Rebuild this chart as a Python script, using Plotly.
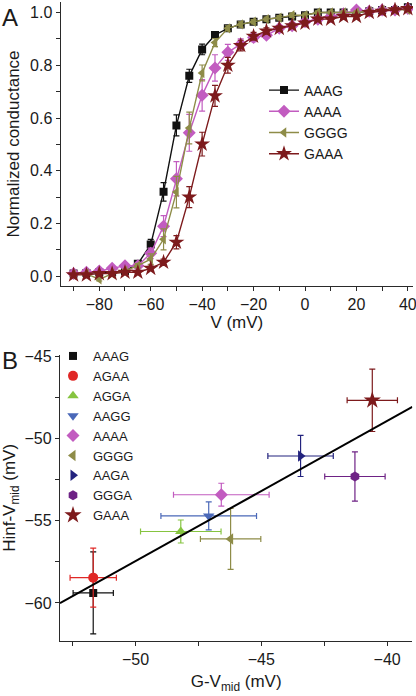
import numpy as np
import plotly.graph_objects as go

# ---------------- Panel A data ----------------
voltage = list(range(-90, 45, 5))

aaag_g = [0.01, 0.012, 0.015, 0.015, 0.02, 0.047, 0.12, 0.32, 0.572, 0.76, 0.86, 0.915, 0.94,
          0.955, 0.965, 0.975, 0.98, 0.985, 0.99, 1.0, 1.0, 1.0, 1.0, 1.005, 1.01, 1.01, 1.02]
aaag_e = [0.005, 0.005, 0.005, 0.005, 0.005, 0.008, 0.02, 0.035, 0.04, 0.025, 0.02, 0.012, 0.01,
          0.01, 0.008, 0.008, 0.008, 0.008, 0.008, 0.006, 0.006, 0.006, 0.006, 0.006, 0.006, 0.006, 0.006]

aaaa_g = [0.01, 0.015, 0.02, 0.03, 0.04, 0.04, 0.087, 0.19, 0.37, 0.544, 0.686, 0.79, 0.849,
          0.88, 0.905, 0.914, 0.94, 0.95, 0.965, 0.975, 0.985, 0.995, 1.01, 1.005, 1.01, 1.01, 1.015]
aaaa_e = [0.005, 0.005, 0.005, 0.005, 0.006, 0.008, 0.02, 0.04, 0.065, 0.07, 0.06, 0.05, 0.03,
          0.02, 0.015, 0.012, 0.01, 0.01, 0.01, 0.008, 0.008, 0.008, 0.008, 0.008, 0.008, 0.008, 0.008]

gggg_g = [0.005, 0.01, -0.012, 0.01, 0.02, 0.04, 0.065, 0.14, 0.319, 0.562, 0.771, 0.886, 0.94,
          0.955, 0.965, 0.975, 0.98, 0.99, 0.99, 1.0, 1.0, 1.0, 1.0, 1.005, 1.01, 1.01, 1.01]
gggg_e = [0.005, 0.005, 0.006, 0.005, 0.006, 0.008, 0.02, 0.04, 0.06, 0.06, 0.03, 0.015, 0.01,
          0.01, 0.008, 0.008, 0.008, 0.008, 0.008, 0.006, 0.006, 0.006, 0.006, 0.006, 0.006, 0.006, 0.006]

gaaa_g = [0.005, 0.005, 0.01, 0.01, 0.015, 0.015, 0.03, 0.053, 0.129, 0.30, 0.501, 0.684, 0.80,
          0.875, 0.91, 0.93, 0.94, 0.95, 0.96, 0.975, 0.975, 0.985, 0.985, 1.0, 1.005, 1.01, 1.015]
gaaa_e = [0.004, 0.004, 0.004, 0.004, 0.005, 0.005, 0.008, 0.012, 0.025, 0.04, 0.045, 0.04, 0.03,
          0.02, 0.015, 0.012, 0.01, 0.01, 0.01, 0.008, 0.008, 0.008, 0.008, 0.008, 0.008, 0.008, 0.008]

series_a_names = ["AAAG", "AAAA", "GGGG", "GAAA"]
series_a_vals = [aaag_g, aaaa_g, gggg_g, gaaa_g]
series_a_errs = [aaag_e, aaaa_e, gggg_e, gaaa_e]
series_a_colors = ["#111111", "#c25cc0", "#8e8c48", "#7d1a1c"]
series_a_symbols = ["square", "diamond", "triangle-left", "star"]
series_a_sizes = [8, 10, 9, 12]

# ---------------- Panel B data ----------------
mut_names = ["AAAG", "AGAA", "AGGA", "AAGG", "AAAA", "GGGG", "AAGA", "GGGA", "GAAA"]
g_vmid = [-51.68, -51.68, -48.2, -47.09, -46.59, -46.22, -43.44, -41.28, -40.59]
g_vmid_err = [0.8, 0.92, 1.6, 1.9, 1.9, 1.2, 1.3, 1.2, 1.0]
h_vmid = [-59.39, -58.46, -55.65, -54.70, -53.41, -56.10, -51.05, -52.30, -47.66]
h_vmid_err = [2.5, 1.8, 0.7, 0.85, 0.7, 1.85, 1.25, 1.5, 1.9]
mut_colors = ["#111111", "#e02826", "#86c440", "#4a68b8", "#c25cc0", "#8e8c48", "#23237e", "#6e2285", "#7d1a1c"]
mut_symbols = ["square", "circle", "triangle-up", "triangle-down", "diamond", "triangle-left",
               "triangle-right", "hexagon", "star"]
mut_sizes = [8, 10, 10, 10, 10, 10, 10, 10, 13]

FONT = "Arial, 'Liberation Sans', sans-serif"
AX = "#2a2a2a"

fig = go.Figure()

for n, v, e, c, s, sz in zip(series_a_names, series_a_vals, series_a_errs,
                             series_a_colors, series_a_symbols, series_a_sizes):
    fig.add_trace(go.Scatter(
        x=voltage, y=v, name=n, mode="lines+markers",
        line=dict(color=c, width=1.4),
        marker=dict(symbol=s, size=sz, color=c, line=dict(width=0)),
        error_y=dict(type="data", array=e, color=c, thickness=1.2, width=3),
        xaxis="x", yaxis="y", legend="legend"))

for n, gx, gxe, hy, hye, c, s, sz in zip(mut_names, g_vmid, g_vmid_err, h_vmid, h_vmid_err,
                                         mut_colors, mut_symbols, mut_sizes):
    fig.add_trace(go.Scatter(
        x=[gx], y=[hy], name=n, mode="markers",
        marker=dict(symbol=s, size=sz, color=c, line=dict(width=0)),
        error_x=dict(type="data", array=[gxe], color=c, thickness=1.2, width=3),
        error_y=dict(type="data", array=[hye], color=c, thickness=1.2, width=3),
        xaxis="x2", yaxis="y2", legend="legend2"))

# linear fit line
slope, intercept = np.polyfit(g_vmid, h_vmid, 1)
fit_x = np.array([-53.0, -39.0])
fig.add_trace(go.Scatter(x=fit_x, y=slope * fit_x + intercept, mode="lines",
                         line=dict(color="black", width=2), showlegend=False,
                         xaxis="x2", yaxis="y2", hoverinfo="skip"))

W, H = 416, 696
def px(x0, x1):
    return [x0 / W, x1 / W]
def py(top, bottom):
    return [1 - bottom / H, 1 - top / H]

common = dict(showline=True, linecolor=AX, linewidth=1.3, ticks="outside", ticklen=4,
              tickwidth=1.2, tickcolor=AX, showgrid=False, zeroline=False,
              automargin=False, ticklabeloverflow="allow",
              tickfont=dict(family=FONT, size=16, color="#1a1a1a"))

fig.update_layout(
    width=W, height=H, margin=dict(l=0, r=0, t=0, b=0),
    paper_bgcolor="white", plot_bgcolor="white",
    font=dict(family=FONT, color="#1a1a1a"),
    xaxis=dict(domain=px(60.7, 413), range=[-95, 42], anchor="y", tick0=0, dtick=20,
               minor=dict(dtick=10, ticks="outside", ticklen=4, tickcolor=AX, tickwidth=1.2),
               title=dict(text="V (mV)", font=dict(family=FONT, size=17), standoff=3),
               **common),
    yaxis=dict(domain=py(2, 286), range=[-0.037, 1.04], anchor="x", dtick=0.2, tick0=0,
               tickformat=".1f",
               minor=dict(dtick=0.1, ticks="outside", ticklen=4, tickcolor=AX, tickwidth=1.2),
               title=dict(text="Normalized conductance", font=dict(family=FONT, size=17), standoff=6),
               **common),
    xaxis2=dict(domain=px(60, 412.3), range=[-53, -39], anchor="y2", tick0=0, dtick=5,
                minor=dict(dtick=2.5, ticks="outside", ticklen=4, tickcolor=AX, tickwidth=1.2),
                title=dict(text="G-V<sub>mid</sub> (mV)", font=dict(family=FONT, size=17), standoff=8),
                **common),
    yaxis2=dict(domain=py(355, 640.7), range=[-62.3, -44.9], anchor="x2", tick0=0, dtick=5,
                minor=dict(dtick=2.5, ticks="outside", ticklen=4, tickcolor=AX, tickwidth=1.2),
                title=dict(text="Hinf-V<sub>mid</sub> (mV)", font=dict(family=FONT, size=17), standoff=6),
                **common),
    legend=dict(x=264 / W, y=1 - 122 / H, xanchor="left", yanchor="middle",
                bgcolor="rgba(0,0,0,0)", font=dict(family=FONT, size=14),
                itemwidth=30, tracegroupgap=0),
    legend2=dict(x=53 / W, y=1 - 436 / H, xanchor="left", yanchor="middle",
                 bgcolor="rgba(0,0,0,0)", font=dict(family=FONT, size=13),
                 itemwidth=30, tracegroupgap=0),
    annotations=[
        dict(text="A", x=0, y=1 - 2 / H, xref="paper", yref="paper", xanchor="left",
             yanchor="top", showarrow=False, font=dict(family=FONT, size=24)),
        dict(text="B", x=0, y=1 - 345 / H, xref="paper", yref="paper", xanchor="left",
             yanchor="top", showarrow=False, font=dict(family=FONT, size=24)),
    ],
)

fig.write_html("out.html", config={"displayModeBar": False},
               post_script="document.body.style.margin='0px';")
